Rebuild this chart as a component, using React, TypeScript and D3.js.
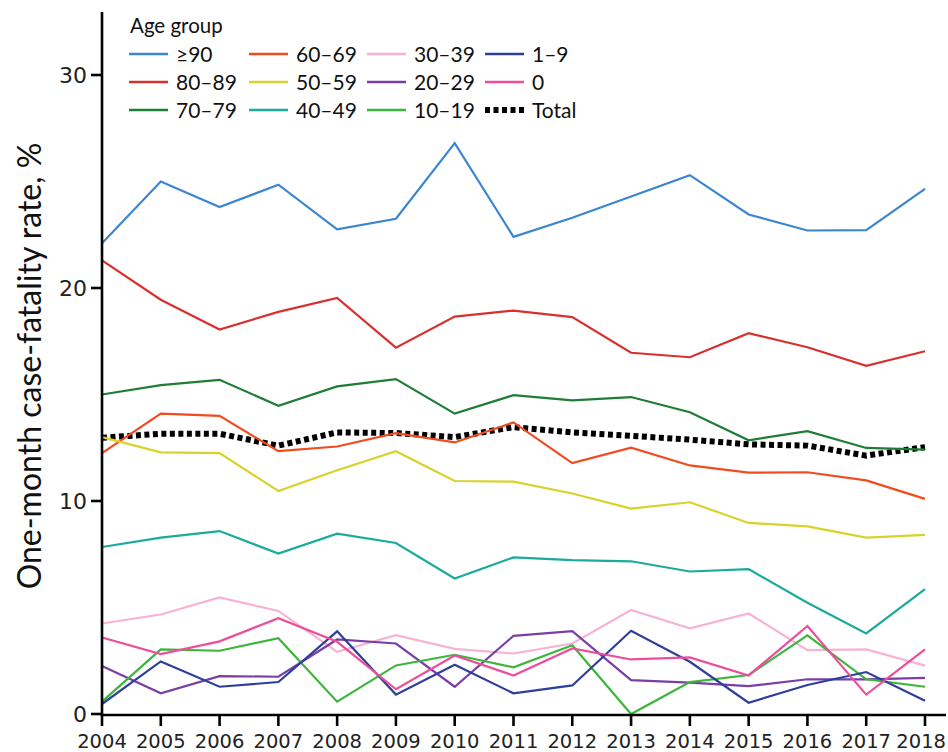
import React from "react";
import * as d3 from "d3";

const years = [2004, 2005, 2006, 2007, 2008, 2009, 2010, 2011, 2012, 2013, 2014, 2015, 2016, 2017, 2018];

const age90 = [22.1, 25.0, 23.8, 24.85, 22.75, 23.25, 26.8, 22.4, 23.3, 24.3, 25.3, 23.45, 22.7, 22.72, 24.65];
const age80 = [21.3, 19.45, 18.05, 18.88, 19.53, 17.2, 18.66, 18.94, 18.63, 16.96, 16.75, 17.88, 17.22, 16.35, 17.03];
const age70 = [15.0, 15.44, 15.69, 14.47, 15.38, 15.72, 14.1, 14.97, 14.72, 14.88, 14.17, 12.85, 13.28, 12.49, 12.41];
const age60 = [12.25, 14.1, 14.0, 12.34, 12.56, 13.19, 12.75, 13.69, 11.78, 12.5, 11.67, 11.33, 11.35, 10.97, 10.1];
const age50 = [13.0, 12.28, 12.25, 10.47, 11.44, 12.34, 10.94, 10.91, 10.35, 9.64, 9.94, 8.97, 8.81, 8.28, 8.41];
const age40 = [7.84, 8.28, 8.59, 7.53, 8.47, 8.03, 6.36, 7.35, 7.22, 7.17, 6.69, 6.8, 5.22, 3.78, 5.86];
const age30 = [4.25, 4.67, 5.47, 4.84, 2.92, 3.7, 3.06, 2.84, 3.31, 4.88, 4.02, 4.72, 3.0, 3.03, 2.27];
const age20 = [2.25, 0.97, 1.78, 1.75, 3.5, 3.31, 1.28, 3.67, 3.89, 1.59, 1.47, 1.31, 1.63, 1.63, 1.7];
const age10 = [0.58, 3.03, 2.97, 3.56, 0.58, 2.28, 2.78, 2.19, 3.23, 0.0, 1.5, 1.83, 3.69, 1.63, 1.28];
const age1 = [0.47, 2.47, 1.28, 1.5, 3.88, 0.91, 2.31, 0.97, 1.34, 3.91, 2.45, 0.53, 1.36, 1.97, 0.62];
const age0 = [3.59, 2.81, 3.41, 4.5, 3.39, 1.16, 2.75, 1.81, 3.08, 2.56, 2.66, 1.81, 4.13, 0.91, 3.03];
const total = [12.97, 13.16, 13.16, 12.6, 13.22, 13.19, 13.0, 13.47, 13.22, 13.06, 12.88, 12.66, 12.6, 12.13, 12.53];

const yTicks = [0, 10, 20, 30];

const series = [
  { name: "≥90", values: age90, color: "#3b86d1" },
  { name: "80–89", values: age80, color: "#d8302f" },
  { name: "70–79", values: age70, color: "#1f7d36" },
  { name: "60–69", values: age60, color: "#f24b1f" },
  { name: "50–59", values: age50, color: "#d8d22b" },
  { name: "40–49", values: age40, color: "#1aab9c" },
  { name: "30–39", values: age30, color: "#f6b3d3" },
  { name: "20–29", values: age20, color: "#7a3fa6" },
  { name: "10–19", values: age10, color: "#3db53c" },
  { name: "1–9", values: age1, color: "#2e3e9b" },
  { name: "0", values: age0, color: "#ec4e9b" },
];

const legendOrder = ["≥90", "80–89", "70–79", "60–69", "50–59", "40–49", "30–39", "20–29", "10–19", "1–9", "0", "Total"];

export default function App() {
  const W = 948, H = 752;
  const x = d3.scaleLinear().domain([2004, 2018]).range([102, 925]);
  const y = d3.scaleLinear().domain([0, 30]).range([714, 75]);
  const line = d3.line<number>().x((_, i) => x(years[i])).y((v) => y(v));
  const legendFont = "'Liberation Sans Narrow', Lato, sans-serif";
  const colX = [129, 249, 367, 485];
  const rowY = [54, 82, 110];

  return (
    <svg width={W} height={H} style={{ position: "absolute", left: 0, top: 0, background: "#fff" }}>
      <rect width={W} height={H} fill="#fff" />
      <path d={line(total) || ""} fill="none" stroke="#000" strokeWidth={6} strokeDasharray="5,3.5" />
      {series.map((s) => (
        <path key={s.name} d={line(s.values) || ""} fill="none" stroke={s.color} strokeWidth={2.2} strokeLinejoin="miter" />
      ))}
      <line x1={102} x2={102} y1={12} y2={716} stroke="#000" strokeWidth={2.6} />
      <line x1={100.7} x2={946} y1={715} y2={715} stroke="#000" strokeWidth={2.6} />
      {yTicks.map((t) => (
        <g key={t}>
          <line x1={91} x2={102} y1={y(t)} y2={y(t)} stroke="#000" strokeWidth={2.6} />
          <text x={87} y={y(t)} dy="0.36em" textAnchor="end" fontFamily="'DejaVu Sans', Verdana, sans-serif" fontSize={22} fill="#222">{t}</text>
        </g>
      ))}
      {years.map((yr, i) => {
        const last = i === years.length - 1;
        return (
          <g key={yr}>
            <line x1={x(yr)} x2={x(yr)} y1={715} y2={726} stroke="#000" strokeWidth={2.6} />
            <text
              x={last ? 946 : x(yr)}
              y={748}
              textAnchor={last ? "end" : "middle"}
              fontFamily="'DejaVu Sans', Verdana, sans-serif"
              fontSize={19.5}
              fill="#222"
            >
              {yr}
            </text>
          </g>
        );
      })}
      <text transform="translate(41,366) rotate(-90)" textAnchor="middle" fontFamily={legendFont} fontSize={32} fill="#111">One-month case-fatality rate, %</text>
      <text x={130} y={33} fontFamily={legendFont} fontSize={20.5} fill="#111">Age group</text>
      {legendOrder.map((name, i) => {
        const col = Math.floor(i / 3);
        const row = i % 3;
        const s = series.find((d) => d.name === name);
        const lx = colX[col];
        const ly = rowY[row];
        return (
          <g key={name}>
            {s ? (
              <line x1={lx} x2={lx + 39} y1={ly} y2={ly} stroke={s.color} strokeWidth={2.4} />
            ) : (
              <line x1={lx} x2={lx + 39} y1={ly} y2={ly} stroke="#000" strokeWidth={6} strokeDasharray="5,3.5" />
            )}
            <text x={lx + 47} y={ly} dy="0.36em" fontFamily={legendFont} fontSize={21} fill="#111">{name}</text>
          </g>
        );
      })}
    </svg>
  );
}
